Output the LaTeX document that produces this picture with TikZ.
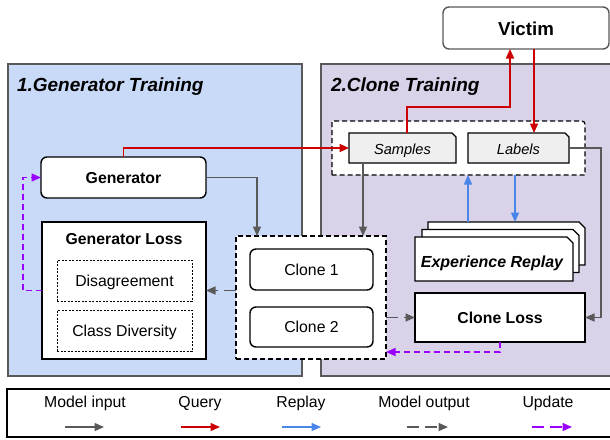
\documentclass[tikz,border=0pt]{standalone}
\usepackage{fontspec}
\setmainfont{Liberation Sans}
\usetikzlibrary{arrows.meta}
\definecolor{pblue}{HTML}{C9DAF8}
\definecolor{ppurple}{HTML}{D9D2E9}
\definecolor{edge}{HTML}{595959}
\definecolor{qred}{HTML}{CC0000}
\definecolor{rblue}{HTML}{4A86E8}
\definecolor{upurple}{HTML}{9900FF}
\definecolor{sgray}{HTML}{EFEFEF}
\begin{document}
\begin{tikzpicture}[x=1pt,y=-1pt,
  every node/.style={inner sep=0pt,outer sep=0pt},
  body/.style={font=\fontsize{15.8}{18}\selectfont,text height=11.3pt,text depth=0pt},
  bbody/.style={font=\fontsize{15.8}{18}\selectfont\bfseries,text height=11.3pt,text depth=0pt},
  ttl/.style={anchor=base west,font=\fontsize{19}{22}\selectfont\bfseries\itshape},
  panel/.style={draw=edge,line width=1.4pt},
  rbox/.style={draw=black,fill=white,line width=1.4pt,rounded corners=6pt},
  sbox/.style={draw=black,fill=white,line width=1.4pt},
  grp/.style={draw=black,fill=white,line width=1.2pt,dash pattern=on 5pt off 3pt},
  dotbox/.style={draw=black,line width=0.8pt,dash pattern=on 2pt off 1.5pt},
  card/.style={draw=black,fill=white,line width=1.4pt},
  tab/.style={draw=black,fill=sgray,line width=1.1pt},
  tip/.style={-{Triangle[length=9.5pt,width=8pt]}},
  inp/.style={tip,color=edge,line width=1.4pt},
  qry/.style={tip,color=qred,line width=1.4pt},
  rep/.style={tip,color=rblue,line width=1.4pt},
  outp/.style={tip,color=edge,line width=1.4pt,dash pattern=on 12pt off 6pt},
  upd/.style={tip,color=upurple,line width=1.4pt,dash pattern=on 6pt off 4pt},
  legupd/.style={upd,dash pattern=on 12pt off 6pt},
]
\useasboundingbox (0,0) rectangle (610,439);

% panels
\draw[panel,fill=pblue] (8,64) rectangle (302,376);
\draw[panel,fill=ppurple] (321,64) rectangle (614,376);
\node[ttl] (t1) at (17,91) {1.Generator Training};
\node[ttl] (t2) at (331,91) {2.Clone Training};

% victim
\node[rbox,draw=edge,minimum width=166pt,minimum height=42pt,font=\fontsize{18.7}{22}\selectfont\bfseries,text height=13.4pt,text depth=0pt] (victim) at (526,28) {\raisebox{-1pt}{Victim}};

% generator side
\node[rbox,bbody,minimum width=165pt,minimum height=41pt] (gen) at (123.5,177.5) {Generator};
\node[sbox,minimum width=164pt,minimum height=137pt] (gl) at (124,290.5) {};
\node[bbody] (glt) at (124,239) {Generator Loss};
\node[dotbox,body,minimum width=135pt,minimum height=41pt] (dis) at (124.5,280.5) {Disagreement};
\node[dotbox,body,minimum width=135pt,minimum height=41pt] (cd) at (124.5,330.5) {Class Diversity};

% clone group
\node[grp,minimum width=150pt,minimum height=123pt] (cg) at (311,297.5) {};
\node[rbox,body,minimum width=123pt,minimum height=41pt] (c1) at (311.5,269.5) {Clone 1};
\node[rbox,body,minimum width=123pt,minimum height=40pt] (c2) at (311.5,327) {Clone 2};

% samples / labels group
\node[minimum width=253pt,minimum height=54pt] (slg) at (458.5,148) {};
\draw[line width=1.2pt,dash pattern=on 5pt off 3pt,fill=white]
  (slg.south west) -- (slg.north west) -- ([xshift=-7pt]slg.north east)
  .. controls (slg.north east) .. ([yshift=-7pt]slg.north east)
  -- (slg.south east) -- cycle;
\node[minimum width=107pt,minimum height=30pt] (smp) at (402.5,148) {};
\draw[tab] (smp.south west) -- (smp.north west) -- ([xshift=-4pt]smp.north east)
  -- ([yshift=-4pt]smp.north east) -- (smp.south east) -- cycle;
\node[anchor=base,font=\fontsize{14.6}{17}\selectfont\itshape] (smpt) at (402.5,154.5) {Samples};
\node[minimum width=101pt,minimum height=30pt] (lab) at (518.5,148) {};
\draw[tab] (lab.south west) -- (lab.north west) -- ([xshift=-4pt]lab.north east)
  -- ([yshift=-4pt]lab.north east) -- (lab.south east) -- cycle;
\node[anchor=base,font=\fontsize{14.6}{17}\selectfont\itshape] (labt) at (518.5,154.5) {Labels};

% experience replay stack
\node[minimum width=157pt,minimum height=43pt] (er3) at (506.5,243.5) {};
\node[minimum width=157pt,minimum height=43pt] (er2) at (500.5,251) {};
\node[minimum width=158pt,minimum height=44pt] (er) at (494,259) {};
\foreach \n in {er3,er2,er}{
  \draw[card] (\n.south west) -- (\n.north west) -- ([xshift=-6pt]\n.north east)
    -- ([yshift=-6pt]\n.north east) -- (\n.south east) -- cycle;
}
\node[anchor=base,font=\fontsize{16}{19}\selectfont\bfseries\itshape] (ert) at (492,267) {Experience Replay};

% clone loss
\node[sbox,bbody,minimum width=170pt,minimum height=49pt] (cl) at (500,317.5) {Clone Loss};

% connectors
\draw[qry] (gen.north) |- (smp.west);
\draw[inp] (gen.east) -| ([xshift=21pt]cg.north west);
\draw[qry] ([xshift=58pt]smp.north west) -- ++(0,-26) -| ([xshift=-16pt]victim.south);
\draw[qry] ([xshift=8pt]victim.south) -- ([xshift=15.5pt]lab.north);
\draw[inp] ([xshift=14pt]smp.south west) -- ([xshift=127pt]cg.north west);
\draw[inp] (lab.east) -- ++(32,0) |- (cl.east);
\draw[rep] ([xshift=40pt]er3.north west) -- ([xshift=136pt]slg.south west);
\draw[rep] ([xshift=183pt]slg.south west) -- ([xshift=87pt]er3.north west);
\draw[outp] (cg.west |- gl.east) -- (gl.east);
\draw[outp] (cg.east |- cl.west) -- (cl.west);
\draw[upd] (cl.south) |- ([yshift=7pt]cg.south east);
\draw[upd] (gl.west) -- ++(-19,0) |- (gen.west);

% legend
\node[draw=black,line width=1.2pt,minimum width=606pt,minimum height=48pt] (leg) at (310,413) {};
\node[body] (l1) at (85,402) {Model input};
\node[body] (l2) at (200,402) {Query};
\node[body] (l3) at (301,402) {Replay};
\node[body] (l4) at (424,402) {Model output};
\node[body] (l5) at (548,402) {Update};
\coordinate (a1s) at (65,427);  \coordinate (a1e) at (104,427);
\coordinate (a2s) at (181,427); \coordinate (a2e) at (220,427);
\coordinate (a3s) at (282,427); \coordinate (a3e) at (321,427);
\coordinate (a4s) at (407,427); \coordinate (a4e) at (448,427);
\coordinate (a5s) at (532,427); \coordinate (a5e) at (572,427);
\draw[inp] (a1s) -- (a1e);
\draw[qry] (a2s) -- (a2e);
\draw[rep] (a3s) -- (a3e);
\draw[outp] (a4s) -- (a4e);
\draw[legupd] (a5s) -- (a5e);
\end{tikzpicture}
\end{document}
